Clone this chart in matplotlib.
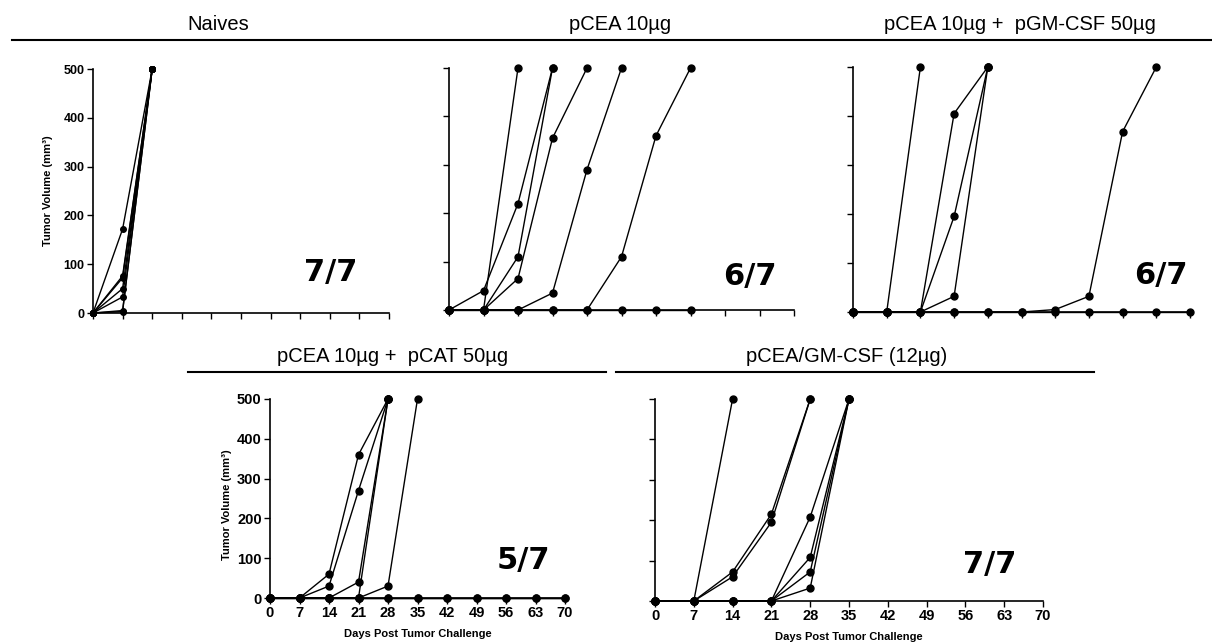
import matplotlib
matplotlib.use("Agg")
import matplotlib.pyplot as plt
from matplotlib.lines import Line2D

plt.rcParams["font.family"] = ["Liberation Sans", "DejaVu Sans"]

# days post tumor challenge (x ticks)
DAYS = [0, 7, 14, 21, 28, 35, 42, 49, 56, 63, 70]

# tumor volume (mm3) per mouse, one value per measurement day starting at day 0
naive_mice = [
    [0, 172, 500],
    [0, 76, 500],
    [0, 72, 500],
    [0, 50, 500],
    [0, 33, 500],
    [0, 5, 500],
    [0, 3, 500],
]
pcea_mice = [
    [0, 0, 500],
    [0, 40, 220, 500],
    [0, 0, 110, 500],
    [0, 0, 65, 355, 500],
    [0, 0, 0, 35, 290, 500],
    [0, 0, 0, 0, 0, 110, 360, 500],
    [0, 0, 0, 0, 0, 0, 0, 0],
]
gmcsf_mice = [
    [0, 0, 500],
    [0, 0, 0, 405, 500],
    [0, 0, 0, 195, 500],
    [0, 0, 0, 32, 500],
    [0, 0, 0, 0, 0, 0, 5, 32, 368, 500],
    [0, 0, 0, 0, 0, 0, 0, 0, 0, 0, 0],
]
pcat_mice = [
    [0, 0, 60, 360, 500],
    [0, 0, 30, 270, 500],
    [0, 0, 0, 40, 500],
    [0, 0, 0, 0, 500],
    [0, 0, 0, 0, 30, 500],
    [0, 0, 0, 0, 0, 0, 0, 0, 0, 0, 0],
    [0, 0, 0, 0, 0, 0, 0, 0, 0, 0, 0],
]
fusion_mice = [
    [0, 0, 500],
    [0, 0, 72, 215, 500],
    [0, 0, 60, 195, 500],
    [0, 0, 0, 0, 208, 500],
    [0, 0, 0, 0, 108, 500],
    [0, 0, 0, 0, 72, 500],
    [0, 0, 0, 0, 32, 500],
]

titles = ["Naives", "pCEA 10µg", "pCEA 10µg +  pGM-CSF 50µg",
          "pCEA 10µg +  pCAT 50µg", "pCEA/GM-CSF (12µg)"]
fractions = ["7/7", "6/7", "6/7", "5/7", "7/7"]

W, H = 1212, 644


def px_rect(x0, y0, x1, y1):
    # pixel box (top-left origin) -> figure fraction rect
    return [x0 / W, 1 - y1 / H, (x1 - x0) / W, (y1 - y0) / H]


def draw_panel(fig, rect, mice, ylabels, xlabels, tick_fs, msize):
    ax = fig.add_axes(rect)
    for vols in mice:
        ax.plot(DAYS[:len(vols)], vols, color="black", lw=1.0, marker="o",
                ms=msize, clip_on=False, zorder=3)
    ax.set_xlim(0, 70)
    ax.set_ylim(0, 500)
    ax.set_xticks(DAYS)
    ax.set_yticks(range(0, 501, 100))
    for s in ["top", "right"]:
        ax.spines[s].set_visible(False)
    for s in ["left", "bottom"]:
        ax.spines[s].set_linewidth(1.2)
    ax.tick_params(direction="out", length=4, width=1.0, pad=2,
                   labelsize=tick_fs)
    if not ylabels:
        ax.set_yticklabels([])
    else:
        for t in ax.get_yticklabels():
            t.set_fontweight("bold")
        ax.set_ylabel("Tumor Volume (mm³)", fontsize=8, fontweight="bold")
    if not xlabels:
        ax.set_xticklabels([])
    else:
        for t in ax.get_xticklabels():
            t.set_fontweight("bold")
        ax.set_xlabel("Days Post Tumor Challenge", fontsize=8, fontweight="bold")
        ax.xaxis.set_label_coords(0.5, -0.155)
    return ax


fig = plt.figure(figsize=(W / 100, H / 100), dpi=100)
fig.patch.set_facecolor("white")

ax1 = draw_panel(fig, px_rect(93, 69, 389, 313), naive_mice, True, False, 9, 4)
ax1.yaxis.set_label_coords(-0.135, 0.5)
draw_panel(fig, px_rect(449, 68, 794, 310), pcea_mice, False, False, 9, 5)
draw_panel(fig, px_rect(853, 67, 1190, 312), gmcsf_mice, False, False, 9, 5)
ax4 = draw_panel(fig, px_rect(270, 399, 565, 598), pcat_mice, True, True, 10.5, 5)
ax4.yaxis.set_label_coords(-0.128, 0.47)
draw_panel(fig, px_rect(655, 399, 1043, 601), fusion_mice, False, True, 10.5, 5)

# group titles with rules underneath
title_pos = [(218, 25), (620, 25), (1020, 25), (393, 357), (847, 357)]
for (x, y), t in zip(title_pos, titles):
    fig.text(x / W, 1 - y / H, t, ha="center", va="center", fontsize=14.5)

rules = [(12, 1212, 40), (188, 606, 372), (616, 1094, 372)]
for x0, x1, y in rules:
    fig.add_artist(Line2D([x0 / W, x1 / W], [1 - y / H, 1 - y / H],
                          transform=fig.transFigure, color="black", lw=1.5))

# tumor incidence labels
frac_pos = [(331, 272), (750, 277), (1161, 275), (523, 561), (990, 565)]
for (x, y), t in zip(frac_pos, fractions):
    fig.text(x / W, 1 - y / H, t, ha="center", va="center", fontsize=22,
             fontweight="bold", family="DejaVu Sans")

fig.savefig("out.png", dpi=100, facecolor="white")
